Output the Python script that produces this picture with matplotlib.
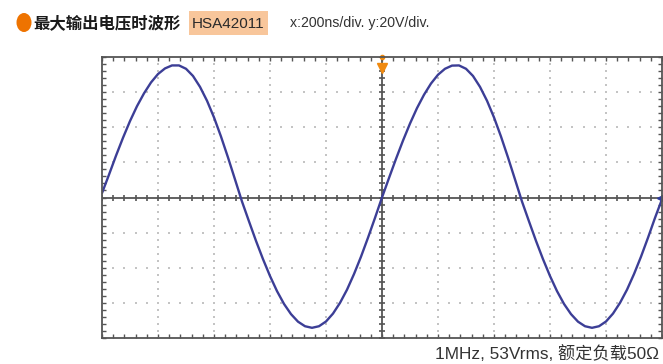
import numpy as np
import matplotlib.pyplot as plt
from matplotlib.patches import Ellipse, Rectangle

# time axis (ns) and trace voltage (V), 25 ns steps
t_ns = np.arange(-1000, 1001, 25)
volts = [
    2.5, 13.0, 23.8, 34.0, 43.5, 52.0, 59.3, 65.5, 70.3, 73.5, 75.2,
    75.2, 73.3, 69.2, 63.0, 55.1, 45.6, 34.7, 22.8, 10.3,
    -2.3, -13.6, -24.7, -35.1, -44.7, -53.3, -60.6, -66.4, -70.7, -73.3, -74.2,
    -73.3, -70.6, -66.1, -60.0, -52.5, -43.6, -33.7, -22.9, -11.6,
    0.0, 11.1, 22.0, 32.4, 42.1, 50.9, 58.5, 64.9, 69.9, 73.3, 75.1,
    75.2, 73.3, 69.2, 63.0, 55.1, 45.6, 34.7, 22.8, 10.3,
    -2.3, -13.6, -24.7, -35.1, -44.7, -53.3, -60.6, -66.4, -70.7, -73.3, -74.2,
    -73.3, -70.6, -66.1, -60.0, -52.5, -43.6, -33.7, -22.9, -11.6,
    -1.0,
]

x_div = 200   # ns/div
y_div = 20    # V/div
n_xdiv = 10
n_ydiv = 8

title = '最大输出电压时波形'
model = 'HSA42011'
scale_txt = 'x:200ns/div. y:20V/div.'
note = '1MHz, 53Vrms, 额定负载50Ω'

W, H = 663, 364
fig = plt.figure(figsize=(W / 100, H / 100), dpi=100)

# overlay in pixel coords for the header/footer
ov = fig.add_axes([0, 0, 1, 1])
ov.set_xlim(0, W)
ov.set_ylim(H, 0)
ov.axis('off')

ov.add_patch(Ellipse((24, 22.5), 15, 19, color='#ee7300', lw=0))
ov.text(33, 23, title, fontsize=11.8, fontweight='bold', color='#1a1a1a',
        family=['Noto Sans CJK SC', 'DejaVu Sans'], va='center', ha='left')
ov.add_patch(Rectangle((189, 11), 79, 24, color='#f8c69b', lw=0))
ov.text(228.5, 23.5, model, fontsize=11, color='#2a2a2a',
        family='Liberation Sans', va='center', ha='center')
ov.text(290, 23.5, scale_txt, fontsize=10.2, color='#333333',
        family='Liberation Sans', va='center', ha='left')
ov.text(659, 354, note, fontsize=12.4, color='#333333',
        family=['Liberation Sans', 'Noto Sans CJK SC'], va='center', ha='right')

# scope screen
ax = fig.add_axes([102 / W, 26 / H, 560 / W, 281 / H])
xmax = x_div * n_xdiv / 2
ymax = y_div * n_ydiv / 2
ax.set_xlim(-xmax, xmax)
ax.set_ylim(-ymax, ymax)

# dotted graticule
xmaj = np.arange(-xmax, xmax + 1, x_div)
ymaj = np.arange(-ymax, ymax + 1, y_div)
xmin = np.arange(-xmax, xmax + 1, x_div / 5)
ymin = np.arange(-ymax, ymax + 1, y_div / 5)
for xv in xmaj[1:-1]:
    if xv == 0:
        continue
    ax.plot(np.full_like(ymin, xv), ymin, ls='none', marker='s', ms=1.8,
            color='#c4c4c4', mew=0)
for yv in ymaj[1:-1]:
    if yv == 0:
        continue
    ax.plot(xmin, np.full_like(xmin, yv), ls='none', marker='s', ms=1.8,
            color='#c4c4c4', mew=0)

# center cross with small ticks
ax.axhline(0, color='#555555', lw=1.3)
ax.axvline(0, color='#555555', lw=1.3)
ax.plot(xmin, np.zeros_like(xmin), ls='none', marker='|', ms=4, mew=1.2,
        color='#555555')
ax.plot(np.zeros_like(ymin), ymin, ls='none', marker='_', ms=4, mew=1.2,
        color='#555555')

# trace
ax.plot(t_ns, volts, color='#3c3e96', lw=1.7, solid_capstyle='round')

# trigger and ground markers
ax.plot([0], [ymax - 6], marker='v', ms=7, color='#f08a10', clip_on=False)
ax.plot([0], [ymax], marker='o', ms=3, color='#f08a10', clip_on=False)
ax.plot([xmax - 4], [0], marker='<', ms=6, color='#2d3a9c', clip_on=False)

ax.set_xticks(xmin)
ax.set_yticks(ymin)
ax.tick_params(direction='in', length=3, width=1, color='#555555',
               top=True, right=True, labelbottom=False, labelleft=False)
for s in ax.spines.values():
    s.set_color('#555555')
    s.set_linewidth(1.3)

fig.savefig('out.png', dpi=100)
